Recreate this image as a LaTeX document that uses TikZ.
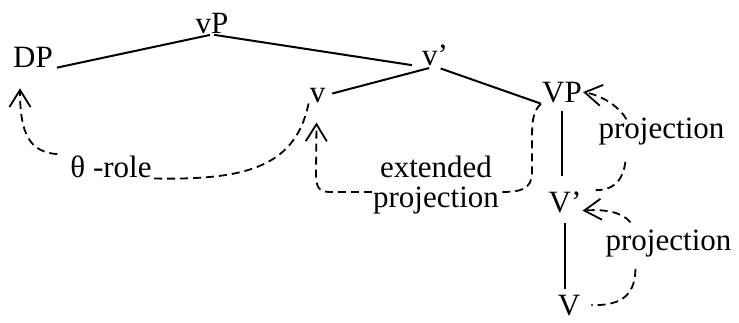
\documentclass[tikz,border=0pt]{standalone}
\usepackage{fontspec}
\setmainfont{Liberation Serif}
\usetikzlibrary{arrows.meta,calc}
\tikzset{
  cat/.style={anchor=base,inner sep=1pt},
  branch/.style={line width=2pt},
  dashlink/.style={dash pattern=on 8pt off 5pt,line width=1.8pt},
  dasharrow/.style={dashlink,-{Straight Barb[length=17pt,width=21pt]}}
}

\begin{document}
\begin{tikzpicture}[x=1pt,y=-1pt,font=\fontsize{31}{30}\selectfont]
  \useasboundingbox (0,0) rectangle (739,322);
  % tree
  \node[cat] (vP) at (212,33) {vP};
  \node[cat] (DP) at (33,67) {DP};
  \node[cat] (vbar) at (435,65) {v'};
  \node[cat] (v) at (317.5,102) {v};
  \node[cat] (VP) at (562,102) {VP};
  \node[cat] (Vbar) at (565,212) {V'};
  \node[cat] (V) at (569,315) {V};
  \draw[branch,shorten <=2pt,shorten >=3pt] (vP.south) -- (DP.south east);
  \draw[branch,shorten <=2pt,shorten >=9pt] (vP.south) -- (vbar.south west);
  \draw[branch,shorten <=6pt,shorten >=6pt] (vbar.south) -- (v.east);
  \draw[branch,shorten <=6pt] (vbar.south) -- (VP.south west);
  \draw[branch,shorten <=7pt,shorten >=14pt] (VP.south) -- (VP.south |- Vbar.north);
  \draw[branch,shorten <=9pt,shorten >=5pt] (Vbar.south) -- (Vbar.south |- V.north);
  % labels on the dashed links
  \node[cat] (role) at (111,177) {θ -role};
  \node[align=center,inner sep=1pt] (ext) at (436,185) {extended\\projection};
  \node[cat] (proj1) at (661.5,138) {projection};
  \node[cat] (proj2) at (668.5,250) {projection};
  % dashed links
  \draw[dashlink] (v.south west) .. controls (295,170) and (240,180) .. (role.south east);
  \draw[dasharrow] ($(role.north west)+(-12,0)$) .. controls (30,152) and (20,135)
    .. ($(DP.south west)+(8,20)$);
  \draw[dashlink] (VP.south west) .. controls (532,112) and (532,125) .. (532,140) -- (532,172)
    .. controls (532,190) and (520,192) .. ($(ext.east)+(0,7)$);
  \draw[dasharrow] ($(ext.west)+(0,7)$) -- (330,192) .. controls (318,192) and (316,186)
    .. (316,174) -- ($(v.south)+(-1,19)$);
  \draw[dasharrow] ($(proj1.north west)+(29,3)$) .. controls (618,105) and (600,95) .. (VP.east);
  \draw[dashlink] ($(proj1.south west)+(28,16)$) .. controls (622,185) and (610,190)
    .. ($(Vbar.north east)+(13,0)$);
  \draw[dasharrow] ($(proj2.north west)+(26,-6)$) .. controls (622,212) and (605,209)
    .. ($(Vbar.south east)+(0,-3)$);
  \draw[dashlink] ($(proj2.south west)+(31,11)$) .. controls (635,292) and (625,306)
    .. ($(V.east)+(10,0)$);
\end{tikzpicture}
\end{document}
